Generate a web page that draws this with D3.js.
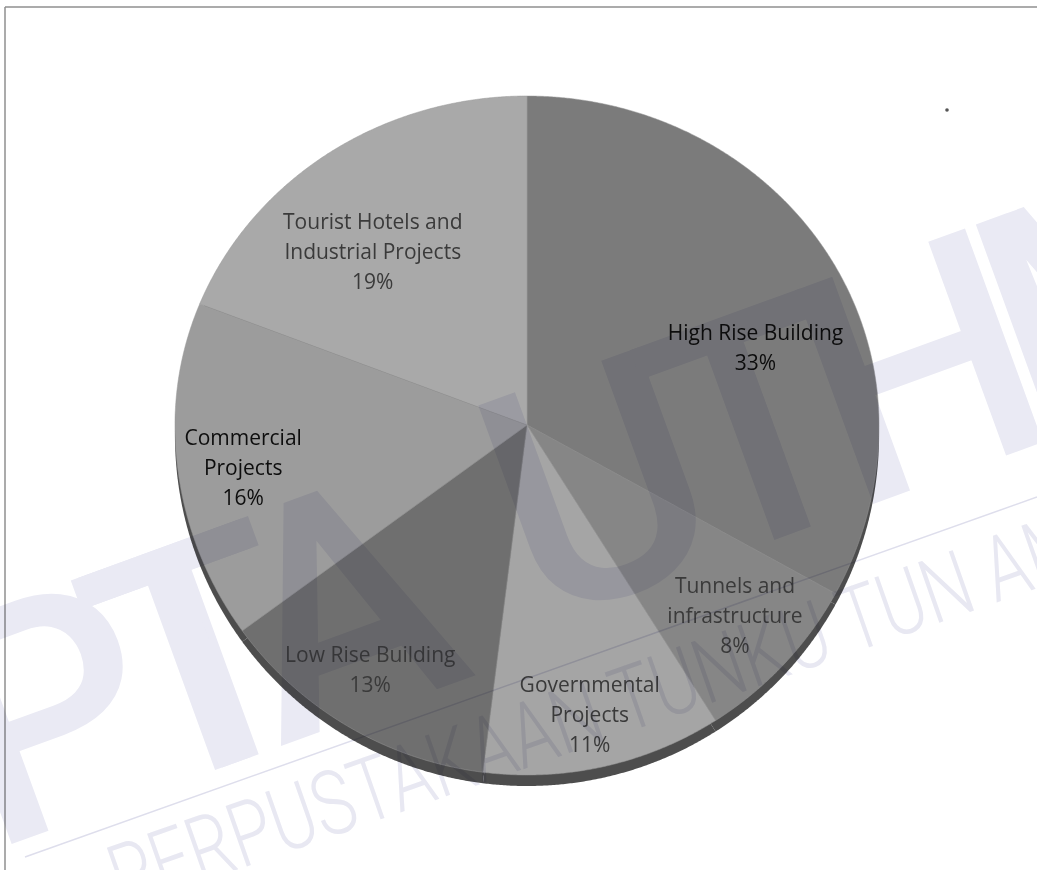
<!DOCTYPE html>
<html>
<head>
<meta charset="utf-8">
<script src="https://cdn.jsdelivr.net/npm/d3@7"></script>
<style>
  html, body { margin: 0; padding: 0; background: #fff; }
  svg { display: block; }
  .wm { mix-blend-mode: multiply; }
</style>
</head>
<body>
<div id="chart"></div>
<script>
// Chart data (clockwise from 12 o'clock)
const categories = ["High Rise Building", "Tunnels and infrastructure", "Governmental Projects",
  "Low Rise Building", "Commercial Projects", "Tourist Hotels and Industrial Projects"];
const shares = [33, 8, 11, 13, 16, 19];
const labelLines = [
  ["High Rise Building"],
  ["Tunnels and", "infrastructure"],
  ["Governmental", "Projects"],
  ["Low Rise Building"],
  ["Commercial", "Projects"],
  ["Tourist Hotels and", "Industrial Projects"]
];

// Layout + style
const W = 1037, H = 870;
const cx = 527, cy = 425, rx = 352, ryTop = 329, ryBot = 350, depth = 11;
const sliceColors = ["#7b7b7b", "#868686", "#a5a5a5", "#6f6f6f", "#9c9c9c", "#a9a9a9"];
const labelInk = ["#0d0d0d", "#3a3a3a", "#3a3a3a", "#3a3a3a", "#0d0d0d", "#3a3a3a"];
const labelShift = [[-23, 61], [-5, -9], [-1, 5], [-8, -6], [6, 6], [10, 52]];

const svg = d3.select("#chart").append("svg")
  .attr("width", W).attr("height", H);

// point on the tilted rim for a pie angle (radians, clockwise from top)
function rim(a, k = 1) {
  const c = Math.cos(a);
  return [cx + rx * k * Math.sin(a), cy - (c > 0 ? ryTop : ryBot) * k * c];
}

const line = d3.line();
function slicePath(d, dy = 0) {
  const pts = [[cx, cy + dy]];
  const n = Math.max(4, Math.ceil((d.endAngle - d.startAngle) / 0.005));
  for (let i = 0; i <= n; i++) {
    const p = rim(d.startAngle + (d.endAngle - d.startAngle) * i / n);
    pts.push([p[0], p[1] + dy]);
  }
  return line(pts) + "Z";
}

const arcs = d3.pie().sort(null).value(d => d)(shares);

// frame of the scanned page
svg.append("line").attr("x1", 5).attr("y1", 7).attr("x2", W).attr("y2", 7)
  .attr("stroke", "#8f8f8f").attr("stroke-width", 1.5);
svg.append("line").attr("x1", 5).attr("y1", 7).attr("x2", 5).attr("y2", H)
  .attr("stroke", "#8f8f8f").attr("stroke-width", 1.5);
svg.append("circle").attr("cx", 947).attr("cy", 110).attr("r", 1.8).attr("fill", "#555");

// 3D side (visible as dark rim at the bottom)
svg.append("g").selectAll("path")
  .data(arcs).enter().append("path")
  .attr("d", d => slicePath(d, depth))
  .attr("fill", "#4d4d4d");

// slices
svg.append("g").selectAll("path")
  .data(arcs).enter().append("path")
  .attr("d", d => slicePath(d))
  .attr("fill", (d, i) => sliceColors[i])
  .attr("stroke", "#969696")
  .attr("stroke-width", 0.5);

// labels
const lh = 30;
const labels = svg.append("g")
  .attr("font-family", "'Open Sans', sans-serif")
  .attr("font-size", 21)
  .attr("text-anchor", "middle");

arcs.forEach((d, i) => {
  const mid = (d.startAngle + d.endAngle) / 2;
  const p = rim(mid, 0.83);
  const x = p[0] + labelShift[i][0], y = p[1] + labelShift[i][1];
  const lines = labelLines[i].concat([shares[i] + "%"]);
  const t = labels.append("text").attr("fill", labelInk[i]);
  lines.forEach((s, j) => {
    t.append("tspan")
      .attr("x", x)
      .attr("y", y + (j - (lines.length - 1) / 2) * lh)
      .attr("dominant-baseline", "central")
      .text(s);
  });
});

// library watermark
const wm = svg.append("g").attr("class", "wm");
const big = wm.append("text")
  .attr("transform", "translate(-10,852) rotate(-20)")
  .attr("font-family", "Roboto, sans-serif")
  .attr("font-weight", 500)
  .attr("font-size", 320)
  .attr("letter-spacing", -35)
  .attr("fill", "#eaeaf4");
big.append("tspan").text("PT");
big.append("tspan").attr("dx", -170).text("T");
big.append("tspan").text("A");
big.append("tspan").attr("dx", 110).attr("dy", -25).text("UTHM");
wm.append("line")
  .attr("x1", 25).attr("y1", 857).attr("x2", W).attr("y2", 497)
  .attr("stroke", "#dedeec").attr("stroke-width", 1.5);
wm.append("text")
  .attr("transform", "translate(95,833) rotate(-19.4)")
  .attr("y", 82)
  .attr("font-family", "Roboto, sans-serif")
  .attr("font-weight", 300)
  .attr("font-size", 90)
  .attr("textLength", 1190)
  .attr("lengthAdjust", "spacingAndGlyphs")
  .attr("fill", "#e8e8f2")
  .text("PERPUSTAKAAN TUNKU TUN AMINAH");
</script>
</body>
</html>
